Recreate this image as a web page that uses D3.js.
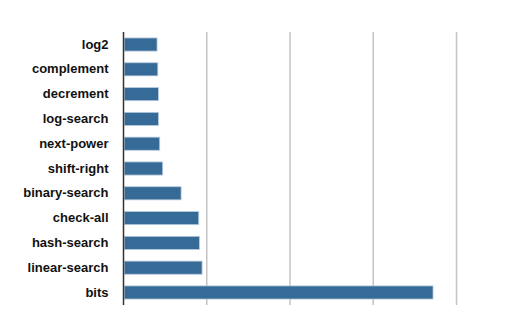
<!DOCTYPE html>
<style>
  body { margin: 0; background: #fff; }
  .label { font: bold 13px "Liberation Sans", Helvetica, Arial, sans-serif; fill: #111; }
</style>
<svg width="520" height="331"></svg>
<script src="https://d3js.org/d3.v7.min.js"></script>
<script>
var names = ["log2", "complement", "decrement", "log-search", "next-power", "shift-right",
  "binary-search", "check-all", "hash-search", "linear-search", "bits"];
var values = [0.394, 0.403, 0.411, 0.411, 0.426, 0.462, 0.683, 0.895, 0.903, 0.935, 3.709];
var gridTicks = [1, 2, 3, 4];

var svg = d3.select("svg"),
    margin = {top: 32, right: 63.5, bottom: 26, left: 123.5},
    width = +svg.attr("width") - margin.left - margin.right,
    height = +svg.attr("height") - margin.top - margin.bottom,
    g = svg.append("g").attr("transform", "translate(" + margin.left + "," + margin.top + ")");

var x = d3.scaleLinear().domain([0, 4]).range([0, width]);
var y = d3.scaleBand().domain(names).range([0, height]).paddingInner(0.47).paddingOuter(0.24);

// vertical grid lines
g.selectAll(".grid").data(gridTicks).enter().append("line")
    .attr("class", "grid")
    .attr("x1", function(d) { return x(d); })
    .attr("x2", function(d) { return x(d); })
    .attr("y1", 0)
    .attr("y2", height)
    .attr("stroke", "#c4c4c4")
    .attr("stroke-width", 1.5);

g.selectAll(".bar").data(values).enter().append("rect")
    .attr("class", "bar")
    .attr("x", x(0) + 0.75)
    .attr("y", function(d, i) { return y(names[i]); })
    .attr("width", function(d) { return x(d) - x(0); })
    .attr("height", y.bandwidth())
    .attr("fill", "#376b97")
    .attr("stroke", "#b9cde0")
    .attr("stroke-width", 0.8);

// category labels
g.append("g")
    .call(d3.axisLeft(y).tickSize(0).tickPadding(15))
    .call(function(a) { a.select(".domain").remove(); })
    .selectAll("text")
    .attr("class", "label")
    .attr("font-size", null)
    .attr("font-family", null);

g.append("line")
    .attr("x1", 0).attr("x2", 0)
    .attr("y1", 0).attr("y2", height)
    .attr("stroke", "#333")
    .attr("stroke-width", 1.5);
</script>
